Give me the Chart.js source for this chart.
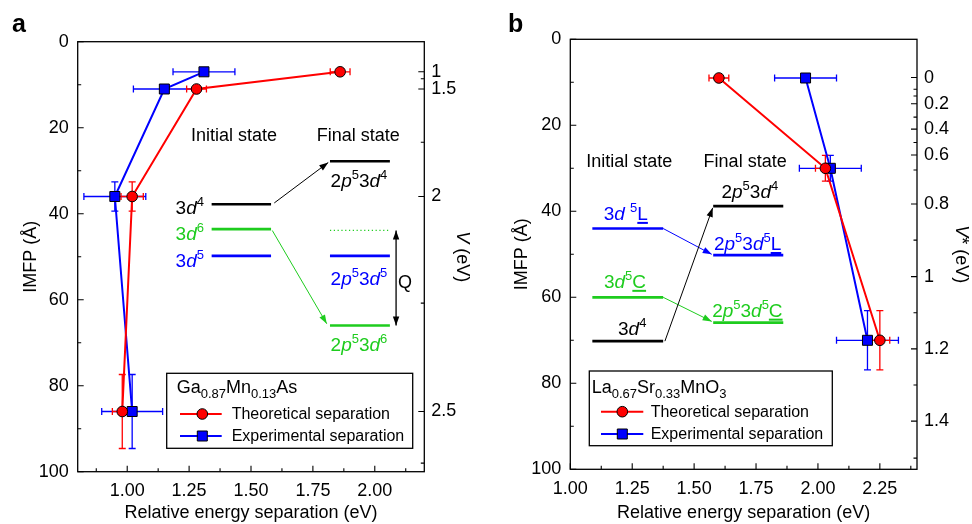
<!DOCTYPE html>
<html>
<head>
<meta charset="utf-8">
<script src="https://cdn.jsdelivr.net/npm/chart.js@4.4.1/dist/chart.umd.min.js"></script>
<style>
  html, body { margin: 0; padding: 0; background: #fff; }
  #wrap { position: relative; width: 972px; height: 524px; }
  canvas { position: absolute; top: 0; }
  #ca { left: 0; }
  #cb { left: 486px; }
</style>
</head>
<body>
<div id="wrap">
  <canvas id="ca" width="486" height="524"></canvas>
  <canvas id="cb" width="486" height="524"></canvas>
</div>
<script>
// ---- panel a : Ga0.87Mn0.13As ----
const imfpA = [7, 11, 36, 86];
const theoryA = [1.86, 1.28, 1.02, 0.98];
const theoryErrA = [0.04, 0.04, 0.045, 0.04];
const exptA = [1.31, 1.15, 0.95, 1.02];
const exptErrA = [0.125, 0.125, 0.125, 0.123];
const imfpErrA = [0, 0, 3.4, 8.6];
const xTicksA = [1.0, 1.25, 1.5, 1.75, 2.0];
const xMinorA = [0.875, 1.125, 1.375, 1.625, 1.875, 2.125];
const vTickImfpA = [7, 11, 36, 86];
const vTickLabelsA = ['1', '1.5', '2', '2.5'];
const vMinorImfpA = [8.6, 23.4, 60.8, 98];

// ---- panel b : La0.67Sr0.33MnO3 ----
const imfpB = [9, 30, 70];
const theoryB = [1.60, 2.03, 2.25];
const theoryErrB = [0.04, 0.04, 0.04];
const exptB = [1.95, 2.05, 2.20];
const exptErrB = [0.125, 0.125, 0.125];
const imfpErrB = [0, 3, 6.9];
const xTicksB = [1.0, 1.25, 1.5, 1.75, 2.0, 2.25];
const xMinorB = [1.125, 1.375, 1.625, 1.875, 2.125, 2.375];
const vTickImfpB = [8.9, 15, 20.9, 26.9, 38.3, 55.2, 72, 88.8];
const vTickLabelsB = ['0', '0.2', '0.4', '0.6', '0.8', '1', '1.2', '1.4'];
const vMinorImfpB = [11.6, 13.2, 18.1, 24, 30.4, 46.7, 63.6, 80.4, 97.4];

const yTicks = [0, 20, 40, 60, 80, 100];
const yMinor = [10, 30, 50, 70, 90];

const BLACK = '#000000', RED = '#ff0000', BLUE = '#0000ff', GREEN = '#1ecc1e';
const FAMILY = "'Liberation Sans', Arial, Helvetica, sans-serif";

// text segment helpers
const N = t => ({ t });
const I = t => ({ t, i: true });
const S = t => ({ t, sup: true });
const B = t => ({ t, sub: true });
const U = t => ({ t, u: true });

function rich(ctx, segs, x, y, size, color, align) {
  const small = Math.round(size * 0.7);
  const fnt = s => (s.i ? 'italic ' : '') + ((s.sup || s.sub) ? small : size) + 'px ' + FAMILY;
  let w = 0;
  const ws = segs.map(s => { ctx.font = fnt(s); const m = ctx.measureText(s.t).width; w += m; return m; });
  let cx = align === 'center' ? x - w / 2 : align === 'right' ? x - w : x;
  ctx.fillStyle = color;
  ctx.strokeStyle = color;
  ctx.textBaseline = 'alphabetic';
  ctx.textAlign = 'left';
  segs.forEach((s, k) => {
    ctx.font = fnt(s);
    const dy = s.sup ? -size * 0.42 : s.sub ? size * 0.28 : 0;
    ctx.fillText(s.t, cx, y + dy);
    if (s.u) {
      ctx.lineWidth = 2;
      ctx.beginPath();
      ctx.moveTo(cx, y + 3);
      ctx.lineTo(cx + ws[k], y + 3);
      ctx.stroke();
    }
    cx += ws[k];
  });
}

function arrowHead(ctx, x1, y1, x2, y2, color) {
  const a = Math.atan2(y2 - y1, x2 - x1), L = 9, W = 3.2;
  ctx.fillStyle = color;
  ctx.beginPath();
  ctx.moveTo(x2, y2);
  ctx.lineTo(x2 - L * Math.cos(a) + W * Math.sin(a), y2 - L * Math.sin(a) - W * Math.cos(a));
  ctx.lineTo(x2 - L * Math.cos(a) - W * Math.sin(a), y2 - L * Math.sin(a) + W * Math.cos(a));
  ctx.closePath();
  ctx.fill();
}

function marker(ctx, style, x, y, color) {
  ctx.fillStyle = color;
  ctx.strokeStyle = BLACK;
  ctx.lineWidth = 1;
  ctx.beginPath();
  if (style === 'circle') ctx.arc(x, y, 5.3, 0, Math.PI * 2);
  else ctx.rect(x - 5, y - 5, 10, 10);
  ctx.fill();
  ctx.stroke();
}

const extras = {
  ca: {
    panel: 'a', panelX: 12,
    rightTitle: [I('V'), N(' (eV)')], rightTitleX: 463,
    xMajor: xTicksA, xMinor: xMinorA, vMajor: vTickImfpA, vMinor: vMinorImfpA,
    errors: [
      { xs: exptA, ys: imfpA, xe: exptErrA, ye: imfpErrA, color: BLUE },
      { xs: theoryA, ys: imfpA, xe: theoryErrA, ye: imfpErrA, color: RED }
    ],
    levels: [
      [1.341, 1.581, 37.8, BLACK], [1.341, 1.581, 43.6, GREEN], [1.341, 1.581, 49.8, BLUE],
      [1.819, 2.061, 27.8, BLACK], [1.819, 2.061, 49.8, BLUE], [1.819, 2.061, 66, GREEN]
    ],
    dotted: [[1.819, 2.061, 43.9, GREEN]],
    arrows: [
      [1.594, 37.5, 1.812, 28.1, BLACK, false],
      [1.586, 43.9, 1.806, 65.6, GREEN, false],
      [2.086, 43.9, 2.086, 66, BLACK, true]
    ],
    texts: [
      [[N('Initial state')], 1.431, 23.2, 'center', BLACK, 18],
      [[N('Final state')], 1.933, 23.2, 'center', BLACK, 18],
      [[N('3'), I('d'), S('4')], 1.310, 40.1, 'right', BLACK, 19],
      [[N('3'), I('d'), S('6')], 1.310, 46.2, 'right', GREEN, 19],
      [[N('3'), I('d'), S('5')], 1.310, 52.3, 'right', BLUE, 19],
      [[N('2'), I('p'), S('5'), N('3'), I('d'), S('4')], 1.936, 33.9, 'center', BLACK, 19],
      [[N('2'), I('p'), S('5'), N('3'), I('d'), S('5')], 1.936, 56.5, 'center', BLUE, 19],
      [[N('2'), I('p'), S('5'), N('3'), I('d'), S('6')], 1.936, 72, 'center', GREEN, 19],
      [[N('Q')], 2.094, 57.3, 'left', BLACK, 18]
    ],
    legend: {
      box: [166.7, 373.3, 412.7, 448.3],
      title: [N('Ga'), B('0.87'), N('Mn'), B('0.13'), N('As')], tx: 176.7, ty: 393.3,
      rows: [414, 436], line: [180, 221.7], mx: 202.3, textX: 231.7
    }
  },
  cb: {
    panel: 'b', panelX: 22,
    rightTitle: [I('V'), N('*'), N(' (eV)')], rightTitleX: 476,
    xMajor: xTicksB, xMinor: xMinorB, vMajor: vTickImfpB, vMinor: vMinorImfpB,
    errors: [
      { xs: exptB, ys: imfpB, xe: exptErrB, ye: imfpErrB, color: BLUE },
      { xs: theoryB, ys: imfpB, xe: theoryErrB, ye: imfpErrB, color: RED }
    ],
    levels: [
      [1.089, 1.375, 44, BLUE], [1.089, 1.375, 60, GREEN], [1.089, 1.375, 70.2, BLACK],
      [1.577, 1.860, 38.8, BLACK], [1.577, 1.860, 50.2, BLUE], [1.577, 1.860, 65.9, GREEN]
    ],
    dotted: [],
    arrows: [
      [1.375, 44, 1.571, 50, BLUE, false],
      [1.375, 60, 1.571, 65.6, GREEN, false],
      [1.382, 70.2, 1.575, 39.2, BLACK, false]
    ],
    texts: [
      [[N('Initial state')], 1.238, 29.6, 'center', BLACK, 18],
      [[N('Final state')], 1.706, 29.6, 'center', BLACK, 18],
      [[N('3'), I('d'), N(' '), S('5'), U('L')], 1.224, 42.0, 'center', BLUE, 19],
      [[N('3'), I('d'), S('5'), U('C')], 1.221, 57.8, 'center', GREEN, 19],
      [[N('3'), I('d'), S('4')], 1.250, 68.8, 'center', BLACK, 19],
      [[N('2'), I('p'), S('5'), N('3'), I('d'), S('4')], 1.725, 37.0, 'center', BLACK, 19],
      [[N('2'), I('p'), S('5'), N('3'), I('d'), S('5'), U('L')], 1.716, 49.0, 'center', BLUE, 19],
      [[N('2'), I('p'), S('5'), N('3'), I('d'), S('5'), U('C')], 1.715, 64.5, 'center', GREEN, 19]
    ],
    legend: {
      box: [103.3, 371, 346.3, 445.7],
      title: [N('La'), B('0.67'), N('Sr'), B('0.33'), N('MnO'), B('3')], tx: 105.7, ty: 392.7,
      rows: [411.7, 434], line: [115, 157.3], mx: 136.3, textX: 164.7
    }
  }
};

const decor = {
  id: 'decor',
  beforeDatasetsDraw(chart) {
    const p = extras[chart.canvas.id];
    const { ctx, chartArea: a, scales } = chart;
    const X = v => scales.x.getPixelForValue(v), Y = v => scales.y.getPixelForValue(v);
    ctx.save();
    // energy-level schematic
    ctx.lineCap = 'butt';
    p.levels.forEach(([x1, x2, y, c]) => {
      ctx.strokeStyle = c; ctx.lineWidth = 2.7;
      ctx.beginPath(); ctx.moveTo(X(x1), Y(y)); ctx.lineTo(X(x2), Y(y)); ctx.stroke();
    });
    p.dotted.forEach(([x1, x2, y, c]) => {
      ctx.strokeStyle = c; ctx.lineWidth = 1.2; ctx.setLineDash([1.2, 2.6]);
      ctx.beginPath(); ctx.moveTo(X(x1), Y(y)); ctx.lineTo(X(x2), Y(y)); ctx.stroke();
      ctx.setLineDash([]);
    });
    p.arrows.forEach(([x1, y1, x2, y2, c, both]) => {
      const px1 = X(x1), py1 = Y(y1), px2 = X(x2), py2 = Y(y2);
      ctx.strokeStyle = c; ctx.lineWidth = both ? 1.3 : 1;
      ctx.beginPath(); ctx.moveTo(px1, py1); ctx.lineTo(px2, py2); ctx.stroke();
      arrowHead(ctx, px1, py1, px2, py2, c);
      if (both) arrowHead(ctx, px2, py2, px1, py1, c);
    });
    p.texts.forEach(([segs, x, y, al, c, size]) => rich(ctx, segs, X(x), Y(y), size, c, al));
    // error bars
    ctx.lineWidth = 1.3;
    p.errors.forEach(e => {
      ctx.strokeStyle = e.color;
      e.xs.forEach((xv, i) => {
        const cx = X(xv), cy = Y(e.ys[i]);
        ctx.beginPath();
        if (e.xe[i]) {
          const x1 = X(xv - e.xe[i]), x2 = X(xv + e.xe[i]);
          ctx.moveTo(x1, cy); ctx.lineTo(x2, cy);
          ctx.moveTo(x1, cy - 3.5); ctx.lineTo(x1, cy + 3.5);
          ctx.moveTo(x2, cy - 3.5); ctx.lineTo(x2, cy + 3.5);
        }
        if (e.ye[i]) {
          const y1 = Y(e.ys[i] - e.ye[i]), y2 = Y(e.ys[i] + e.ye[i]);
          ctx.moveTo(cx, y1); ctx.lineTo(cx, y2);
          ctx.moveTo(cx - 3.5, y1); ctx.lineTo(cx + 3.5, y1);
          ctx.moveTo(cx - 3.5, y2); ctx.lineTo(cx + 3.5, y2);
        }
        ctx.stroke();
      });
    });
    ctx.restore();
  },
  afterDraw(chart) {
    const p = extras[chart.canvas.id];
    const { ctx, chartArea: a, scales } = chart;
    const X = v => scales.x.getPixelForValue(v), Y = v => scales.y.getPixelForValue(v);
    ctx.save();
    // frame
    ctx.strokeStyle = BLACK; ctx.lineWidth = 1.3;
    ctx.strokeRect(a.left, a.top, a.right - a.left, a.bottom - a.top);
    // inward ticks
    ctx.lineWidth = 1.1;
    ctx.beginPath();
    p.xMajor.forEach(v => { ctx.moveTo(X(v), a.bottom); ctx.lineTo(X(v), a.bottom - 6); });
    p.xMinor.forEach(v => { ctx.moveTo(X(v), a.bottom); ctx.lineTo(X(v), a.bottom - 3.5); });
    yTicks.forEach(v => { ctx.moveTo(a.left, Y(v)); ctx.lineTo(a.left + 6, Y(v)); });
    yMinor.forEach(v => { ctx.moveTo(a.left, Y(v)); ctx.lineTo(a.left + 3.5, Y(v)); });
    p.vMajor.forEach(v => { ctx.moveTo(a.right, Y(v)); ctx.lineTo(a.right - 6, Y(v)); });
    p.vMinor.forEach(v => { ctx.moveTo(a.right, Y(v)); ctx.lineTo(a.right - 3.5, Y(v)); });
    ctx.stroke();
    // legend box
    const L = p.legend;
    ctx.fillStyle = '#fff';
    ctx.fillRect(L.box[0], L.box[1], L.box[2] - L.box[0], L.box[3] - L.box[1]);
    ctx.strokeStyle = BLACK; ctx.lineWidth = 1.3;
    ctx.strokeRect(L.box[0], L.box[1], L.box[2] - L.box[0], L.box[3] - L.box[1]);
    rich(ctx, L.title, L.tx, L.ty, 18, BLACK, 'left');
    const rows = [[RED, 'circle', 'Theoretical separation'], [BLUE, 'rect', 'Experimental separation']];
    rows.forEach(([c, st, label], k) => {
      const y = L.rows[k];
      ctx.strokeStyle = c; ctx.lineWidth = 2;
      ctx.beginPath(); ctx.moveTo(L.line[0], y); ctx.lineTo(L.line[1], y); ctx.stroke();
      marker(ctx, st, L.mx, y, c);
      ctx.fillStyle = BLACK; ctx.font = '16px ' + FAMILY;
      ctx.textAlign = 'left'; ctx.textBaseline = 'middle';
      ctx.fillText(label, L.textX, y + 1);
    });
    // panel letter
    ctx.fillStyle = BLACK; ctx.font = 'bold 25px ' + FAMILY;
    ctx.textAlign = 'left'; ctx.textBaseline = 'alphabetic';
    ctx.fillText(p.panel, p.panelX, 32);
    // right axis title, rotated clockwise
    ctx.translate(p.rightTitleX, (a.top + a.bottom) / 2);
    ctx.rotate(Math.PI / 2);
    rich(ctx, p.rightTitle, 0, 6, 18, BLACK, 'center');
    ctx.restore();
  }
};

function buildChart(id, cfg) {
  const tickFont = { family: FAMILY, size: 18 };
  return new Chart(document.getElementById(id), {
    type: 'scatter',
    data: {
      datasets: [
        {
          label: 'Theoretical separation',
          data: cfg.imfp.map((y, i) => ({ x: cfg.theory[i], y })),
          showLine: true, borderColor: RED, borderWidth: 2,
          pointStyle: 'circle', pointRadius: 5.3, pointBackgroundColor: RED,
          pointBorderColor: BLACK, pointBorderWidth: 1, xAxisID: 'x', yAxisID: 'y'
        },
        {
          label: 'Experimental separation',
          data: cfg.imfp.map((y, i) => ({ x: cfg.expt[i], y })),
          showLine: true, borderColor: BLUE, borderWidth: 2,
          pointStyle: 'rect', pointRadius: 7.07, pointBackgroundColor: BLUE,
          pointBorderColor: BLACK, pointBorderWidth: 1, xAxisID: 'x', yAxisID: 'y'
        }
      ]
    },
    options: {
      responsive: false, animation: false, devicePixelRatio: 1,
      layout: { padding: { top: cfg.top, right: 0, bottom: 0, left: 0 } },
      plugins: { legend: { display: false }, tooltip: { enabled: false } },
      scales: {
        x: {
          type: 'linear', position: 'bottom', min: cfg.xMin, max: cfg.xMax,
          afterBuildTicks: s => { s.ticks = cfg.xTicks.map(v => ({ value: v })); },
          afterFit: s => { s.height = cfg.xAxisH; },
          grid: { display: false, drawTicks: false }, border: { display: false },
          ticks: { autoSkip: false, maxRotation: 0, padding: 9, color: BLACK, font: tickFont,
                   callback: v => Number(v).toFixed(2) },
          title: { display: true, text: 'Relative energy separation (eV)', color: BLACK,
                   font: tickFont, padding: { top: 0, bottom: 0 } }
        },
        y: {
          type: 'linear', position: 'left', reverse: true, min: 0, max: 100,
          afterBuildTicks: s => { s.ticks = yTicks.map(v => ({ value: v })); },
          afterFit: s => { s.width = cfg.leftW; },
          grid: { display: false, drawTicks: false }, border: { display: false },
          ticks: { padding: 9, color: BLACK, font: tickFont },
          title: { display: true, text: 'IMFP (Å)', color: BLACK, font: tickFont,
                   padding: { top: cfg.yTitlePad, bottom: 0 } }
        },
        v: {
          type: 'linear', position: 'right', reverse: true, min: 0, max: 100,
          afterBuildTicks: s => { s.ticks = cfg.vTicks.map(v => ({ value: v })); },
          afterFit: s => { s.width = cfg.rightW; },
          grid: { display: false, drawTicks: false }, border: { display: false },
          ticks: { padding: 7, color: BLACK, font: tickFont,
                   callback: (v, i) => cfg.vLabels[i] }
        }
      }
    },
    plugins: [decor]
  });
}

buildChart('ca', {
  imfp: imfpA, theory: theoryA, expt: exptA,
  xMin: 0.8, xMax: 2.2, xTicks: xTicksA, vTicks: vTickImfpA, vLabels: vTickLabelsA,
  top: 41.7, xAxisH: 52.3, leftW: 77.7, rightW: 61.7, yTitlePad: 20
});
buildChart('cb', {
  imfp: imfpB, theory: theoryB, expt: exptB,
  xMin: 1.0, xMax: 2.4, xTicks: xTicksB, vTicks: vTickImfpB, vLabels: vTickLabelsB,
  top: 39.3, xAxisH: 54.7, leftW: 84.3, rightW: 55, yTitlePad: 25
});
</script>
</body>
</html>
